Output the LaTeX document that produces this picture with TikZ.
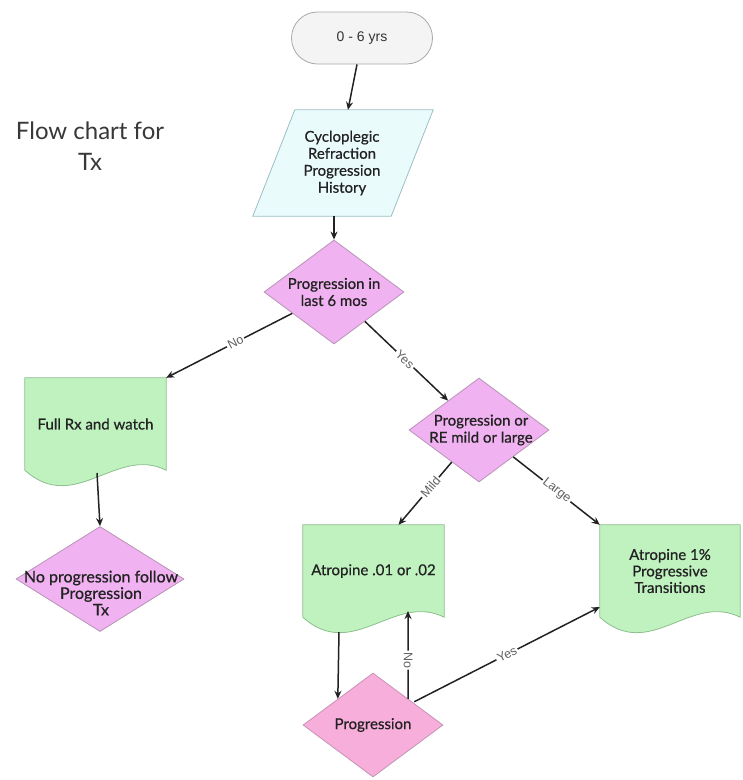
\documentclass[tikz,border=0pt]{standalone}
\usepackage{fontspec}
\setmainfont{Lato}
\newfontfamily\nodefont{Lato}[FakeBold=0.6]
\newfontfamily\arialfont{Liberation Sans}
\usetikzlibrary{arrows.meta,shapes.geometric,calc,backgrounds}
\definecolor{diafill}{HTML}{F0B2F0}
\definecolor{diaborder}{HTML}{B894B8}
\definecolor{progfill}{HTML}{F8AEDB}
\definecolor{progborder}{HTML}{C494B4}
\definecolor{docfill}{HTML}{C0F2C0}
\definecolor{docborder}{HTML}{8EBE8E}
\definecolor{parafill}{HTML}{EAFBFB}
\definecolor{paraborder}{HTML}{9CBFC4}
\definecolor{termfill}{HTML}{F4F4F4}
\definecolor{termborder}{HTML}{A8A8A8}
\definecolor{ink}{HTML}{222222}
\begin{document}
\begin{tikzpicture}[x=1pt,y=-1pt,
  txt/.style={font=\nodefont\fontsize{15}{17}\selectfont, text=ink, align=center, inner sep=0pt},
  arr/.style={draw=ink, line width=1.5pt, -{Stealth[length=8pt,width=7pt]}},
  lbl/.style={fill=white, font=\arialfont\fontsize{12.5}{12.5}\selectfont, text=black!62, inner sep=1.5pt, sloped},
  decision/.style={diamond, draw=diaborder, fill=diafill, line width=0.8pt, inner sep=0pt, minimum width=140pt, minimum height=104pt},
  docnode/.style={rectangle, inner sep=0pt, minimum width=141pt, minimum height=92pt, txt},
  docline/.style={draw=docborder, fill=docfill, line width=0.8pt},
  terminal/.style={rectangle, rounded corners=26pt, draw=termborder, fill=termfill, line width=0.8pt, minimum width=141pt, minimum height=52pt, font=\arialfont\fontsize{14}{16}\selectfont, text=black!80},
  titletext/.style={font=\fontsize{24}{31}\selectfont, text=black!78, align=center}
]
\useasboundingbox (0,0) rectangle (743,780);

% title
\node[titletext] (title) at (90,146) {Flow chart for\\Tx};

% terminal
\node[terminal] (start) at (362,38) {0 - 6 yrs};

% parallelogram (data)
\node[rectangle, inner sep=0pt, minimum width=138pt, minimum height=106pt, txt] (para) at (342,163) {Cycloplegic\\Refraction\\Progression\\History};
\begin{scope}[on background layer]
\draw[draw=paraborder, fill=parafill, line width=0.8pt]
  ($(para.north west)+(22,0)$) -- ($(para.north east)+(22,0)$) --
  ($(para.south east)+(-20,0)$) -- ($(para.south west)+(-20,0)$) -- cycle;
\end{scope}

% decisions
\node[decision] (d1) at (334,292) {};
\node[txt] (d1t) at (d1) {Progression in\\last 6 mos};

\node[decision, minimum width=168pt, minimum height=105pt] (d2) at (100,579) {};
\node[txt, font=\nodefont\fontsize{16}{16.5}\selectfont] (d2t) at (101,593) {No progression follow\\Progression\\Tx};

\node[decision] (d3) at (479,430) {};
\node[txt] (d3t) at (481,430) {Progression or\\RE mild or large};

\node[decision, fill=progfill, draw=progborder] (prog) at (373,725) {};
\node[txt] (progt) at (prog) {Progression};

% documents
\node[docnode] (full) at (95.5,424) {Full Rx and watch};
\node[docnode] (a01) at (373.5,571) {Atropine .01 or .02};
\node[docnode, minimum width=140pt, font=\nodefont\fontsize{15}{16.5}\selectfont] (a1) at (670,571) {Atropine 1\%\\Progressive\\Transitions};
\begin{scope}[on background layer]
\foreach \n in {full,a01,a1}{
  \draw[docline] (\n.north west) -- (\n.north east) -- (\n.south east)
    .. controls ($(\n.south east)+(-50,-25)$) and ($(\n.south west)+(50,45)$) .. (\n.south west) -- cycle;
}
\end{scope}

% free ends
\coordinate (fullout) at (97,473);
\coordinate (a01out) at (339,632);
\coordinate (a01in) at (408,611);

% connectors
\draw[arr] ([xshift=-5pt]start.south) -- ([xshift=6pt]para.north);
\draw[arr] ([xshift=-8pt]para.south) -- (d1.north);
\draw[arr] (d1) -- node[lbl, pos=0.45] {No} (full.north east);
\draw[arr] (d1) -- node[lbl, pos=0.48] {Yes} (d3);
\draw[arr] (fullout) -- (d2.north);
\draw[arr] (d3) -- node[lbl, pos=0.4] {Mild} ([xshift=25pt]a01.north);
\draw[arr] (d3) -- node[lbl, pos=0.5] {Large} (a1.north west);
\draw[arr] (a01out) -- (prog.north west);
\draw[arr] (prog.north east) -- node[lbl, pos=0.44] {No} (a01in);
\draw[arr] ([xshift=6pt,yshift=-3pt]prog.north east) -- node[lbl, pos=0.5] {Yes} ([yshift=-36pt]a1.west);
\end{tikzpicture}
\end{document}
